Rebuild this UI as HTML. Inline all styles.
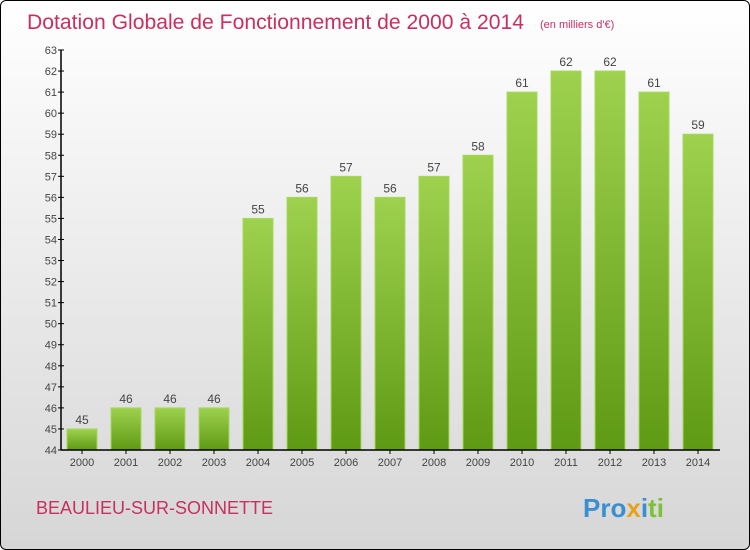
<!DOCTYPE html>
<html><head><meta charset="utf-8"><style>
html,body{margin:0;padding:0;}
body{width:750px;height:550px;overflow:hidden;font-family:"Liberation Sans",sans-serif;}
#wrap{position:absolute;left:0;top:0;width:748px;height:548px;border:1px solid #000;border-radius:6px;background:linear-gradient(#ffffff,#d6d6d6);}
</style></head><body>
<div id="wrap">
<svg id="chart" width="750" height="550" style="position:absolute;left:-1px;top:-1px" font-family="Liberation Sans, sans-serif">
<defs><linearGradient id="g" x1="0" y1="0" x2="0" y2="1"><stop offset="0" stop-color="#9ed24e"/><stop offset="1" stop-color="#5f9a14"/></linearGradient></defs>
<text x="27" y="29" font-size="21" fill="#c8305f" textLength="497" lengthAdjust="spacingAndGlyphs">Dotation Globale de Fonctionnement de 2000 à 2014</text>
<text x="540" y="28" font-size="11" fill="#c8305f">(en milliers d'€)</text>
<text x="36" y="514" font-size="18" fill="#c8305f" textLength="237" lengthAdjust="spacingAndGlyphs">BEAULIEU-SUR-SONNETTE</text>
<text x="583" y="517" font-size="26" font-weight="bold"><tspan fill="#3a8fd0">Pro</tspan><tspan fill="#e8a21a">x</tspan><tspan fill="#3a8fd0">i</tspan><tspan fill="#7cc234">ti</tspan></text>
<g id="plot"></g>
</svg>
</div>
<script>
const categories=["2000","2001","2002","2003","2004","2005","2006","2007","2008","2009","2010","2011","2012","2013","2014"];
const values=[45,46,46,46,55,56,57,56,57,58,61,62,62,61,59];
const yTicks=[44,45,46,47,48,49,50,51,52,53,54,55,56,57,58,59,60,61,62,63];
const yMin=44,yMax=63,plotTop=50,plotBottom=450,axisX=61;
const y=v=>plotBottom-(v-yMin)/(yMax-yMin)*(plotBottom-plotTop);
const xc=i=>82+i*44;
const ns="http://www.w3.org/2000/svg";
const g=document.getElementById('plot');
function mk(t,a){const e=document.createElementNS(ns,t);for(const k in a)e.setAttribute(k,a[k]);g.appendChild(e);return e;}
values.forEach((v,i)=>{
 const r=mk('rect',{x:xc(i)-15,y:y(v),width:30,height:plotBottom-y(v),fill:'url(#g)',stroke:'#a6d85e','stroke-width':1});
 
 
 const t=mk('text',{x:xc(i),y:y(v)-5,'text-anchor':'middle','font-size':12,fill:'#444'});
 t.textContent=v;
 
 
 const c=mk('text',{x:xc(i),y:466,'text-anchor':'middle','font-size':11,fill:'#444'});
 c.textContent=categories[i];
 
 
 const tk=mk('line',{x1:xc(i),x2:xc(i),y1:plotBottom,y2:plotBottom+4,stroke:'#000'});
 
 
});
yTicks.forEach(v=>{
 const l=mk('line',{x1:axisX-3,x2:axisX+3,y1:y(v),y2:y(v),stroke:'#000'});
 
 
 const t=mk('text',{x:axisX-4,y:y(v)+4,'text-anchor':'end','font-size':11,fill:'#444'});
 t.textContent=v;
 
 
});
const ya=mk('line',{x1:axisX,x2:axisX,y1:plotTop,y2:plotBottom,stroke:'#000','stroke-width':1.5});


const xa=mk('line',{x1:axisX,x2:720,y1:plotBottom,y2:plotBottom,stroke:'#000','stroke-width':1.5});


</script>
</body></html>
